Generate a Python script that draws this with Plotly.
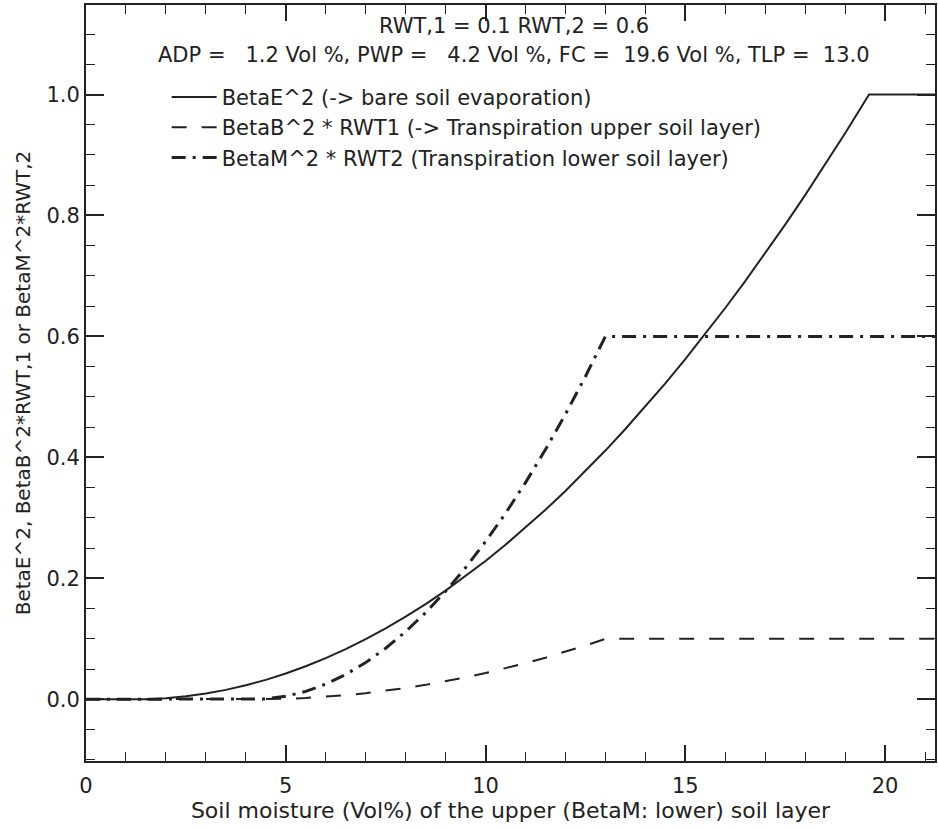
import plotly.graph_objects as go

# ---- data ----
x_e = [0, 1.2, 1.5, 2.0, 2.5, 3.0, 3.5, 4.0, 4.5, 5.0, 5.5, 6.0, 6.5, 7.0, 7.5, 8.0, 8.5,
       9.0, 9.5, 10.0, 10.5, 11.0, 11.5, 12.0, 12.5, 13.0, 13.5, 14.0, 14.5, 15.0, 15.5,
       16.0, 16.5, 17.0, 17.5, 18.0, 18.5, 19.0, 19.6, 21.3]
y_e = [0, 0, 0.0003, 0.0019, 0.0050, 0.0096, 0.0156, 0.0232, 0.0322, 0.0427, 0.0546,
       0.0681, 0.0830, 0.0994, 0.1172, 0.1366, 0.1574, 0.1797, 0.2035, 0.2287, 0.2555,
       0.2837, 0.3134, 0.3445, 0.3772, 0.4113, 0.4469, 0.4839, 0.5225, 0.5625, 0.6040,
       0.6470, 0.6914, 0.7374, 0.7848, 0.8337, 0.8840, 0.9359, 1.0, 1.0]

x_t = [0, 4.2, 4.5, 5.0, 5.5, 6.0, 6.5, 7.0, 7.5, 8.0, 8.5, 9.0, 9.5, 10.0, 10.5, 11.0,
       11.5, 12.0, 12.5, 13.0, 21.3]
y_b = [0, 0, 0.0001, 0.0008, 0.0022, 0.0042, 0.0068, 0.0101, 0.0141, 0.0187, 0.0239,
       0.0298, 0.0363, 0.0434, 0.0513, 0.0597, 0.0688, 0.0786, 0.0890, 0.1, 0.1]
y_m = [0, 0, 0.0007, 0.0050, 0.0131, 0.0251, 0.0410, 0.0607, 0.0844, 0.1119, 0.1433,
       0.1785, 0.2176, 0.2607, 0.3075, 0.3583, 0.4129, 0.4714, 0.5338, 0.6, 0.6]

names = ["BetaE^2 (-> bare soil evaporation)",
         "BetaB^2 * RWT1 (-> Transpiration upper soil layer)",
         "BetaM^2 * RWT2 (Transpiration lower soil layer)"]

header1 = "RWT,1 = 0.1 RWT,2 = 0.6"
header2 = "ADP =   1.2 Vol %, PWP =   4.2 Vol %, FC =  19.6 Vol %, TLP =  13.0"

FONT = "DejaVu Sans"
INK = "#222222"

fig = go.Figure()
fig.add_trace(go.Scatter(x=x_e, y=y_e, mode="lines", name=names[0],
                         line=dict(color=INK, width=2)))
fig.add_trace(go.Scatter(x=x_t, y=y_b, mode="lines", name=names[1],
                         line=dict(color=INK, width=2, dash="15px,15px")))
fig.add_trace(go.Scatter(x=x_t, y=y_m, mode="lines", name=names[2],
                         line=dict(color=INK, width=3, dash="14px,7px,3px,7px")))

fig.add_annotation(text=header1.replace(" ", "\u00a0"), xref="paper", yref="paper",
                   x=0.504, y=0.972, xanchor="center", yanchor="middle", showarrow=False,
                   font=dict(family=FONT, size=21, color=INK))
fig.add_annotation(text=header2.replace(" ", "\u00a0"), xref="paper", yref="paper",
                   x=0.504, y=0.934, xanchor="center", yanchor="middle", showarrow=False,
                   font=dict(family=FONT, size=21, color=INK))

fig.update_layout(
    width=938, height=829,
    margin=dict(l=86, r=1, t=5, b=68),
    paper_bgcolor="white", plot_bgcolor="white",
    font=dict(family=FONT, size=18, color=INK),
    showlegend=True,
    legend=dict(x=0.095, y=0.905, xanchor="left", yanchor="top", itemwidth=45,
                bgcolor="rgba(0,0,0,0)", font=dict(family=FONT, size=21, color=INK)),
    xaxis=dict(range=[0, 21.25], tickvals=[0, 5, 10, 15, 20], ticks="inside",
               ticklen=16, tickwidth=1.5, tickcolor=INK, showline=True, linecolor=INK,
               linewidth=2, mirror="ticks", showgrid=False, zeroline=False,
               minor=dict(dtick=1, ticks="inside", ticklen=9, tickwidth=1.2, tickcolor=INK,
                          showgrid=False),
               tickfont=dict(size=21),
               title=dict(text="Soil moisture (Vol%) of the upper (BetaM: lower) soil layer",
                          standoff=2, font=dict(size=22)),
               ticklabelstandoff=5),
    yaxis=dict(range=[-0.102, 1.148], tickvals=[0, 0.2, 0.4, 0.6, 0.8, 1.0],
               tickformat=".1f", ticks="inside", ticklen=18, tickwidth=1.5, tickcolor=INK,
               showline=True, linecolor=INK, linewidth=2, mirror="ticks", showgrid=False,
               zeroline=False,
               minor=dict(dtick=0.05, ticks="inside", ticklen=9, tickwidth=1.2,
                          tickcolor=INK, showgrid=False),
               tickfont=dict(size=21),
               title=dict(text="BetaE^2, BetaB^2*RWT,1 or BetaM^2*RWT,2", standoff=10,
                          font=dict(size=20)),
               ticklabelstandoff=0),
)

fig.write_html("out.html")
